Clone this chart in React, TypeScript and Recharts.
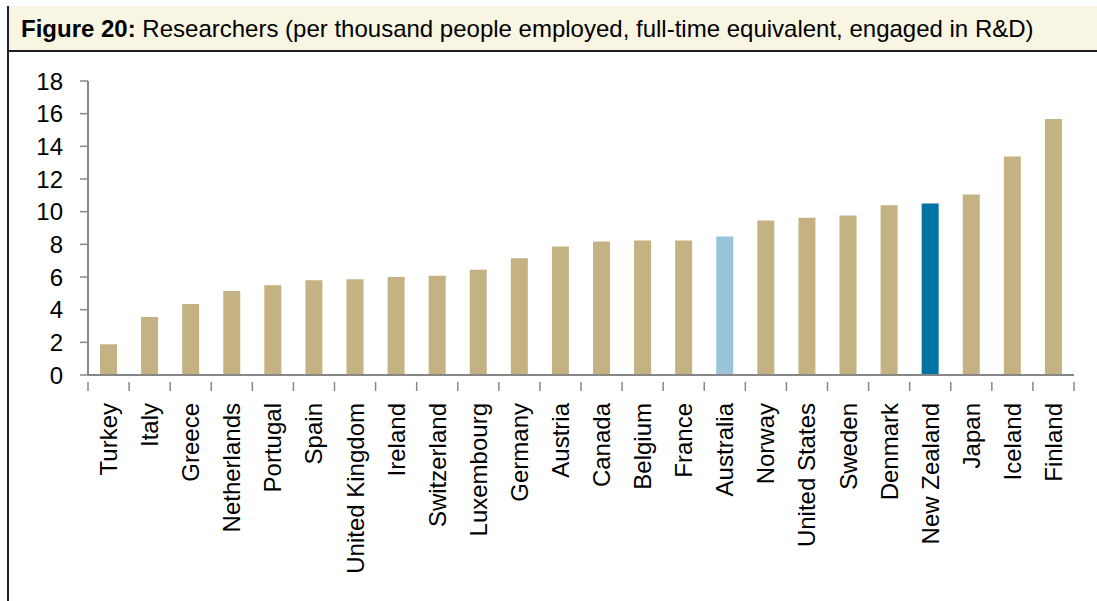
import React from "react";
import { BarChart, Bar, XAxis, YAxis, Cell } from "recharts";

const countries = [
  "Turkey", "Italy", "Greece", "Netherlands", "Portugal", "Spain", "United Kingdom",
  "Ireland", "Switzerland", "Luxembourg", "Germany", "Austria", "Canada", "Belgium",
  "France", "Australia", "Norway", "United States", "Sweden", "Denmark", "New Zealand",
  "Japan", "Iceland", "Finland",
];
const researchers = [
  1.88, 3.55, 4.35, 5.15, 5.5, 5.8, 5.86, 6.0, 6.08, 6.45, 7.15, 7.87, 8.17, 8.23,
  8.23, 8.48, 9.46, 9.62, 9.76, 10.4, 10.5, 11.05, 13.38, 15.68,
];
const yTicks = [0, 2, 4, 6, 8, 10, 12, 14, 16, 18];

const TAN = "#C4B283";
const LIGHT_BLUE = "#9AC5D9";
const DARK_BLUE = "#0072A3";
const barColor = (name: string) =>
  name === "Australia" ? LIGHT_BLUE : name === "New Zealand" ? DARK_BLUE : TAN;

const data = countries.map((c, i) => ({ name: c, value: researchers[i] }));

const W = 1097;
const H = 601;
const X_AXIS_H = 226;
const Y_AXIS_W = 88;
const M = { top: 81, right: 23, bottom: 0, left: 0 };
const PLOT_W = W - M.left - M.right - Y_AXIS_W;
const HALF_BAND = PLOT_W / countries.length / 2;
const FONT = "'Liberation Sans', Arial, Helvetica, sans-serif";
const AXIS = "#878787";

const XTick = (props: any) => {
  const { x, y, payload, index } = props;
  const isLast = index === countries.length - 1;
  return (
    <g>
      <line x1={x - HALF_BAND} x2={x - HALF_BAND} y1={y - 1} y2={y + 8} stroke={AXIS} strokeWidth={1.5} />
      {isLast && (
        <line x1={x + HALF_BAND} x2={x + HALF_BAND} y1={y - 1} y2={y + 8} stroke={AXIS} strokeWidth={1.5} />
      )}
      <text
        x={x}
        y={y + 20}
        transform={`rotate(-90, ${x}, ${y + 20})`}
        textAnchor="end"
        dominantBaseline="central"
        fontSize={24}
        fontFamily={FONT}
        fill="#000"
      >
        {payload.value}
      </text>
    </g>
  );
};

export default function App() {
  return (
    <div style={{ position: "absolute", left: 0, top: 0, width: W, height: H, background: "#fff", fontFamily: FONT }}>
      <div
        style={{
          position: "absolute",
          left: 8,
          top: 6,
          width: W - 8,
          height: 42,
          paddingTop: 2,
          boxSizing: "content-box",
          background: "#F9F5E3",
          borderBottom: "2px solid #1d1d1d",
          fontSize: 24,
          lineHeight: "42px",
          color: "#000",
          whiteSpace: "nowrap",
        }}
      >
        <span style={{ paddingLeft: 13 }}>
          <b>Figure 20:</b> Researchers (per thousand people employed, full-time equivalent, engaged in R&amp;D)
        </span>
      </div>
      <div style={{ position: "absolute", left: 7, top: 6, width: 2, height: H - 6, background: "#1b2130" }} />
      <div style={{ position: "absolute", left: 0, top: 0 }}>
        <BarChart width={W} height={H} data={data} margin={M} barSize={17}>
          <YAxis
            width={Y_AXIS_W}
            domain={[0, 18]}
            ticks={yTicks}
            interval={0}
            axisLine={{ stroke: AXIS, strokeWidth: 2 }}
            tickLine={{ stroke: AXIS, strokeWidth: 1.5 }}
            tickSize={8}
            tickMargin={17}
            tick={{ fontSize: 24, fill: "#000", fontFamily: FONT }}
          />
          <XAxis
            dataKey="name"
            interval={0}
            axisLine={{ stroke: AXIS, strokeWidth: 2 }}
            tickLine={false}
            tick={<XTick />}
            height={X_AXIS_H}
          />
          <Bar dataKey="value" isAnimationActive={false}>
            {data.map((d) => (
              <Cell key={d.name} fill={barColor(d.name)} />
            ))}
          </Bar>
        </BarChart>
      </div>
    </div>
  );
}
